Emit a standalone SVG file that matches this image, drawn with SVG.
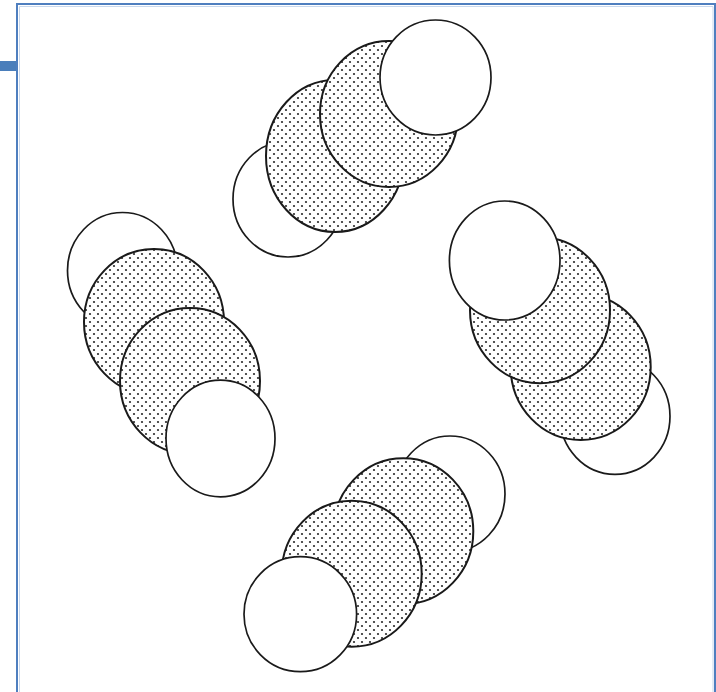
<svg xmlns="http://www.w3.org/2000/svg" width="716" height="692" viewBox="0 0 716 692">
  <style>
    .plain { fill: #ffffff; stroke: #1a1a1a; stroke-width: 1.7; }
    .dotted { fill: url(#stipple); stroke: #1a1a1a; stroke-width: 2; }
    .frame { fill: none; stroke: #4f7fbf; stroke-width: 2; }
    .frame-inner { fill: none; stroke: #c9d8ec; stroke-width: 1; }
  </style>
  <defs>
    <pattern id="stipple" width="8" height="8" patternUnits="userSpaceOnUse">
      <rect width="8" height="8" fill="#ffffff"/>
      <circle cx="2" cy="2" r="1.1" fill="#2a2a2a"/>
      <circle cx="6" cy="6" r="1.1" fill="#2a2a2a"/>
    </pattern>
  </defs>
  <rect width="716" height="692" fill="#ffffff"/>

  <g id="frame">
    <path class="frame" d="M17 700 V4 H715 V700"/>
    <path class="frame-inner" d="M19.5 700 V6.5 H713 V700"/>
    <rect x="0" y="61" width="16" height="10" fill="#4a7ebb"/>
  </g>

  <g id="group-top">
    <ellipse id="top-1" class="plain" cx="288" cy="199" rx="55" ry="58"/>
    <ellipse id="top-2" class="dotted" cx="335" cy="156" rx="69" ry="76"/>
    <ellipse id="top-3" class="dotted" cx="389" cy="114" rx="69" ry="73"/>
    <ellipse id="top-4" class="plain" cx="435.5" cy="77.5" rx="55.5" ry="57.5"/>
  </g>

  <g id="group-left">
    <ellipse id="left-1" class="plain" cx="122.5" cy="270.5" rx="55" ry="58"/>
    <ellipse id="left-2" class="dotted" cx="154" cy="322" rx="70" ry="73"/>
    <ellipse id="left-3" class="dotted" cx="190" cy="381" rx="70" ry="73"/>
    <ellipse id="left-4" class="plain" cx="220.5" cy="438.5" rx="54.5" ry="58.3"/>
  </g>

  <g id="group-right">
    <ellipse id="right-1" class="plain" cx="615" cy="416.3" rx="55" ry="58"/>
    <ellipse id="right-2" class="dotted" cx="580.7" cy="367" rx="70" ry="73"/>
    <ellipse id="right-3" class="dotted" cx="540" cy="310.3" rx="70" ry="73"/>
    <ellipse id="right-4" class="plain" cx="504.7" cy="260.5" rx="55.3" ry="59.5"/>
  </g>

  <g id="group-bottom">
    <ellipse id="bottom-1" class="plain" cx="450" cy="494" rx="55" ry="58"/>
    <ellipse id="bottom-2" class="dotted" cx="403.3" cy="531.3" rx="70" ry="73"/>
    <ellipse id="bottom-3" class="dotted" cx="351.7" cy="573.7" rx="70" ry="73"/>
    <ellipse id="bottom-4" class="plain" cx="300.3" cy="614.2" rx="56.3" ry="57.5"/>
  </g>
</svg>
